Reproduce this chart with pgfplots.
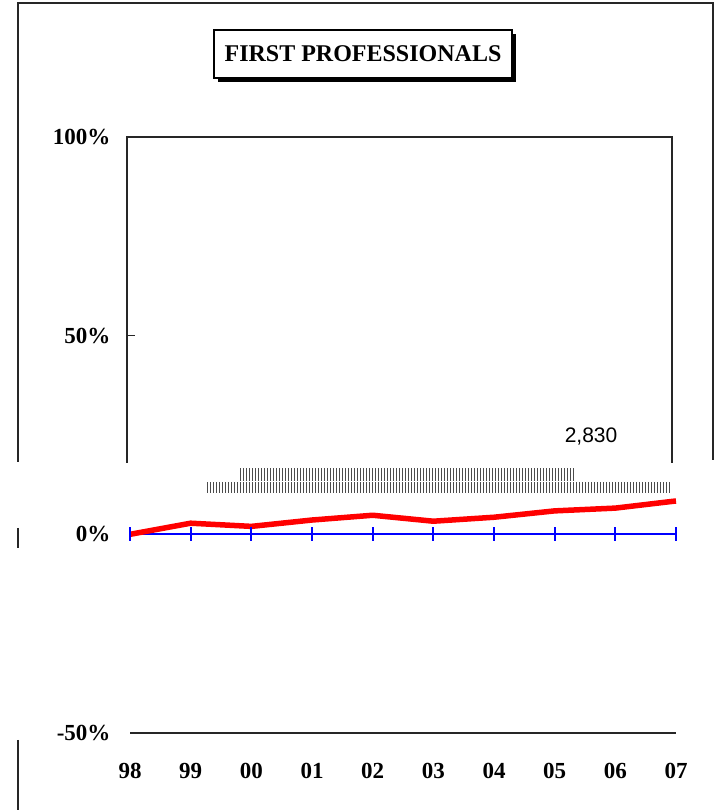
\documentclass[border=0pt]{standalone}
\usepackage{pgfplots}
\pgfplotsset{compat=1.18}
\usepackage{fontspec}
\setmainfont{Liberation Serif}
\newfontfamily\arial{Liberation Sans}
\usetikzlibrary{shadows,patterns}

\begin{document}
\begin{tikzpicture}[x=1pt,y=1pt]
\useasboundingbox (0,0) rectangle (724,810);

% outer frame (partly missing, as in the source)
\draw[line width=1.8pt, black!85] (18,348) -- (18,807) -- (713,807) -- (713,350);
\draw[line width=1.8pt, black!85] (18,282) -- (18,262);
\draw[line width=1.8pt, black!85] (18,70) -- (18,0);

% title
\node[draw=black, line width=1.2pt, fill=white, minimum width=298pt, minimum height=48pt,
      drop shadow={shadow xshift=4pt, shadow yshift=-4pt, fill=black, opacity=1}]
  at (363,756) {\fontsize{24}{26}\selectfont\bfseries FIRST PROFESSIONALS};

\begin{axis}[
    at={(130pt,77pt)}, anchor=south west,
    scale only axis, width=546pt, height=596pt,
    xmin=0, xmax=9, ymin=-50, ymax=100,
    clip=false,
    axis line style={draw=none},
    major tick length=0pt,
    xtick={0,...,9},
    xticklabels={98,99,00,01,02,03,04,05,06,07},
    ytick={-50,0,50,100},
    yticklabels={-50\%,0\%,50\%,100\%},
    /pgf/number format/assume math mode=true,
    ticklabel style={font=\fontsize{23}{25}\selectfont\bfseries},
    xticklabel style={yshift=-27pt},
    yticklabel style={xshift=-16pt},
]
% glitch bands
\fill[pattern=vertical lines, pattern color=black!70] (axis cs:1.81,13.6) rectangle (axis cs:7.33,16.6);
\fill[pattern=vertical lines, pattern color=black!70] (axis cs:1.24,10.6) rectangle (axis cs:8.93,13.1);

% plot frame (upper part) and -50% line
\draw[line width=1.8pt, black!85] (axis cs:-0.05,18) -- (axis cs:-0.05,100) -- (axis cs:8.93,100) -- (axis cs:8.93,18);
\draw[line width=1.2pt, black!85] (axis cs:-0.05,50) -- (axis cs:0.09,50);
\draw[line width=1.8pt, black!85] (axis cs:0,-50) -- (axis cs:9,-50);

% zero line
\addplot[blue, line width=2pt, mark=|, mark size=7pt, mark options={line width=1.8pt}]
  coordinates {(0,0) (1,0) (2,0) (3,0) (4,0) (5,0) (6,0) (7,0) (8,0) (9,0)};

% change series
\addplot[red, line width=5.5pt, line join=round] coordinates {
  (0,0) (1,2.8) (2,2.0) (3,3.6) (4,4.8) (5,3.3) (6,4.3) (7,5.9) (8,6.6) (9,8.4)};

\node[font=\arial\fontsize{21}{23}\selectfont] at (axis cs:7.6,24.5) {2,830};
\end{axis}
\end{tikzpicture}
\end{document}
